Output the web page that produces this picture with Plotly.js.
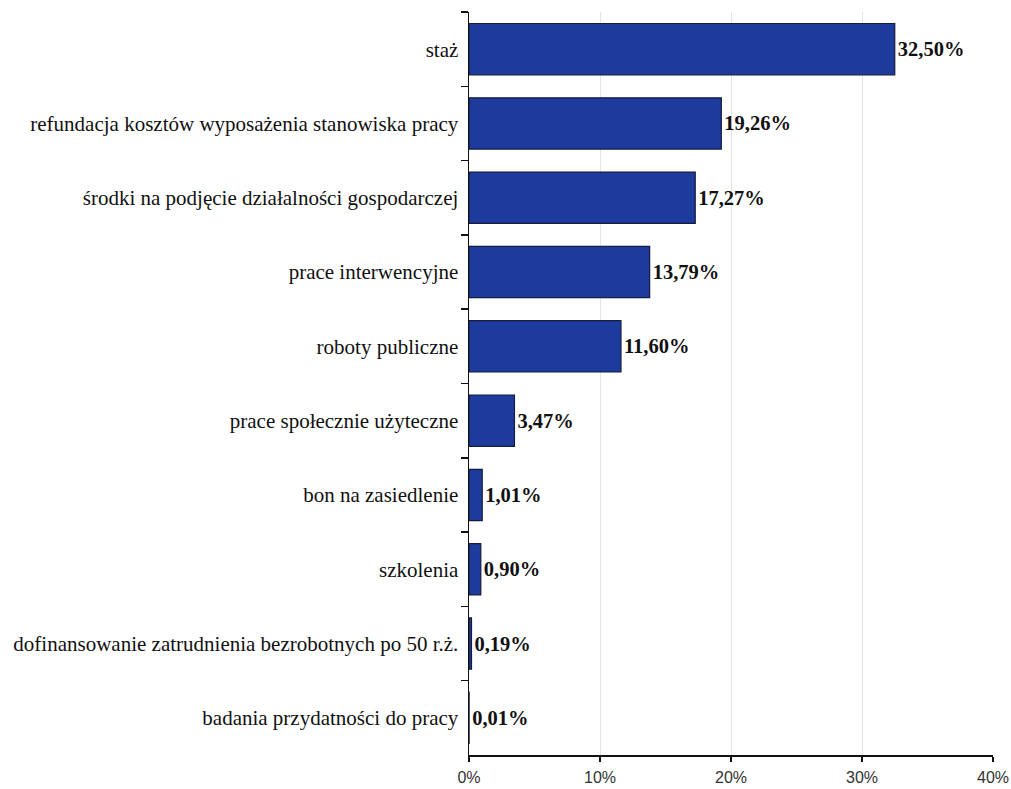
<!DOCTYPE html>
<html>
<head>
<meta charset="utf-8">
<script src="https://cdn.plot.ly/plotly-3.0.1.min.js"></script>
<style>html,body{margin:0;padding:0;background:#fff;}#chart{width:1011px;height:789px;}</style>
</head>
<body>
<div id="chart"></div>
<script>
const categories = [
  "staż",
  "refundacja kosztów wyposażenia stanowiska pracy",
  "środki na podjęcie działalności gospodarczej",
  "prace interwencyjne",
  "roboty publiczne",
  "prace społecznie użyteczne",
  "bon na zasiedlenie",
  "szkolenia",
  "dofinansowanie zatrudnienia bezrobotnych po 50 r.ż.",
  "badania przydatności do pracy"
];
const values = [32.50, 19.26, 17.27, 13.79, 11.60, 3.47, 1.01, 0.90, 0.19, 0.01];
const xTickVals = [0, 10, 20, 30, 40];
const xTickText = ["0%", "10%", "20%", "30%", "40%"];

const labels = values.map(v => v.toFixed(2).replace('.', ',') + '%');

const trace = {
  type: 'bar',
  orientation: 'h',
  x: values,
  y: categories,
  text: labels,
  textposition: 'outside',
  cliponaxis: false,
  textfont: {family: '"Liberation Serif", "Times New Roman", serif', size: 20.5, color: '#111', weight: 'bold'},
  marker: {color: '#1d3b9c', line: {color: '#141c3c', width: 1.2}},
  hoverinfo: 'none'
};

const layout = {
  width: 1011, height: 789,
  margin: {l: 469, r: 18, t: 12, b: 34},
  paper_bgcolor: '#fff', plot_bgcolor: '#fff',
  showlegend: false,
  bargap: 0.31,
  xaxis: {
    range: [0, 40],
    tickvals: xTickVals,
    ticktext: xTickText,
    showgrid: true, gridcolor: '#e4e4e4', gridwidth: 1,
    zeroline: false,
    showline: true, linecolor: '#111', linewidth: 1.5,
    ticks: 'outside', ticklen: 5, tickcolor: '#111', tickwidth: 1.5,
    ticklabelstandoff: 2,
    tickfont: {family: '"Liberation Sans", Arial, sans-serif', size: 16, color: '#333'},
    fixedrange: true
  },
  yaxis: {
    type: 'category',
    categoryorder: 'array',
    categoryarray: categories,
    autorange: 'reversed',
    showgrid: false, zeroline: false,
    showline: true, linecolor: '#111', linewidth: 1.5,
    ticks: 'outside', ticklen: 7, tickcolor: '#111', tickwidth: 1.5,
    tickson: 'boundaries',
    ticklabelstandoff: 5,
    tickfont: {family: '"Liberation Serif", "Times New Roman", serif', size: 21, color: '#111'},
    fixedrange: true
  }
};

Plotly.newPlot('chart', [trace], layout, {displayModeBar: false, staticPlot: true});
</script>
</body>
</html>
